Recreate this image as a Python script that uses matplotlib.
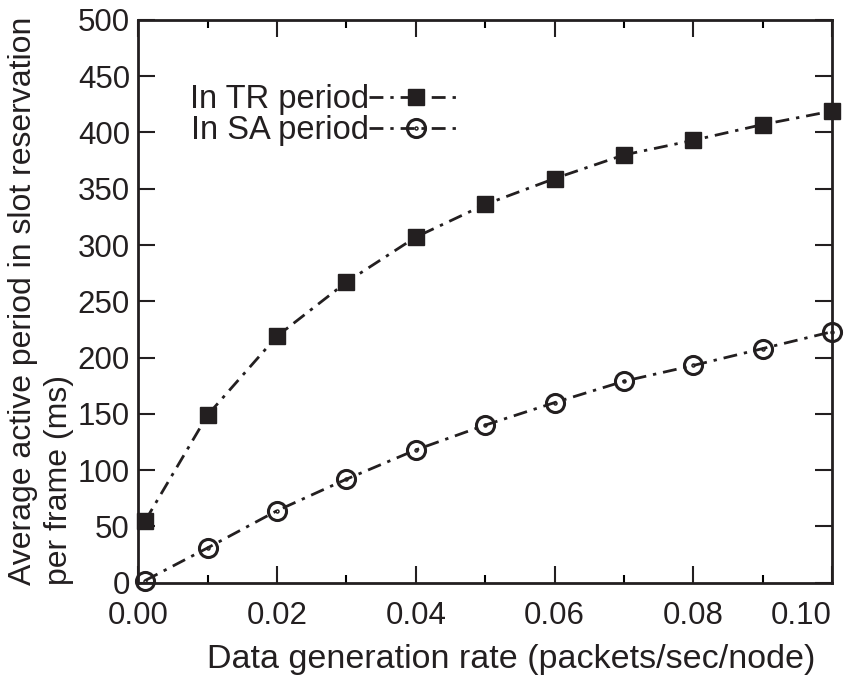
import matplotlib
matplotlib.use("Agg")
import matplotlib.pyplot as plt
from matplotlib.ticker import MultipleLocator
from matplotlib.path import Path

rate = [0.001, 0.01, 0.02, 0.03, 0.04, 0.05, 0.06, 0.07, 0.08, 0.09, 0.10]
tr_period = [55, 149, 219, 267, 307, 336, 359, 380, 393, 407, 419]
sa_period = [2, 31, 64, 92, 118, 140, 160, 179, 193, 208, 223]
x_ticks = [0.00, 0.02, 0.04, 0.06, 0.08, 0.10]
x_tick_labels = ['0.00', '0.02', '0.04', '0.06', '0.08', '0.10']

plt.rcParams['font.family'] = ['Liberation Sans', 'DejaVu Sans']
fs_tick = 22.5
fs_lab = 24
col = '#231f20'

# circle with a dot at its centre
outer = Path.unit_circle()
inner = Path(Path.unit_circle().vertices * 0.08, Path.unit_circle().codes)
dot_circle = Path.make_compound_path(outer, inner)

fig = plt.figure(figsize=(8.64, 6.84), dpi=100)
ax = fig.add_axes([0.160, 0.148, 0.803, 0.823])

ls = (0, (5, 2.5, 1.2, 2.5))
l1, = ax.plot(rate, tr_period, color=col, lw=2, linestyle=ls, marker='s',
              markersize=11.5, markerfacecolor=col, markeredgecolor=col,
              clip_on=False, zorder=3, label='In TR period')
l2, = ax.plot(rate, sa_period, color=col, lw=2, linestyle=ls, marker=dot_circle,
              markersize=13, markerfacecolor='none', markeredgecolor=col,
              markeredgewidth=2.2, clip_on=False, zorder=3, label='In SA period')

ax.set_xlim(0, 0.10)
ax.set_ylim(0, 500)
ax.set_xticks(x_ticks, x_tick_labels)
ax.xaxis.set_minor_locator(MultipleLocator(0.01))
ax.yaxis.set_major_locator(MultipleLocator(50))
ax.tick_params(axis='both', which='major', direction='in', length=12, width=1.5,
               top=True, right=True, labelsize=fs_tick, colors=col)
ax.tick_params(axis='x', which='major', pad=13)
ax.tick_params(axis='y', which='major', pad=6)
ax.tick_params(axis='both', which='minor', direction='in', length=6, width=1.5,
               top=True, right=True)
for s in ax.spines.values():
    s.set_linewidth(2)
    s.set_color(col)

ax.get_xticklabels()[-1].set_horizontalalignment('right')

ax.set_xlabel('Data generation rate (packets/sec/node)', fontsize=24.5, color=col)
ax.xaxis.set_label_coords(0.5375, -0.108)
fig.text(8 / 864, 99 / 684, 'Average active period in slot reservation\nper frame (ms)',
         fontsize=23, color=col, rotation=90, ha='left', va='bottom',
         multialignment='left', linespacing=1.25)

leg = ax.legend(loc='upper left', bbox_to_anchor=(0.051, 0.915), frameon=False,
                fontsize=23.5, markerfirst=False, handlelength=2.85,
                handletextpad=0.0, labelspacing=0.0, borderpad=0)
for t in leg.get_texts():
    t.set_color(col)

fig.savefig('out.png', dpi=100)
